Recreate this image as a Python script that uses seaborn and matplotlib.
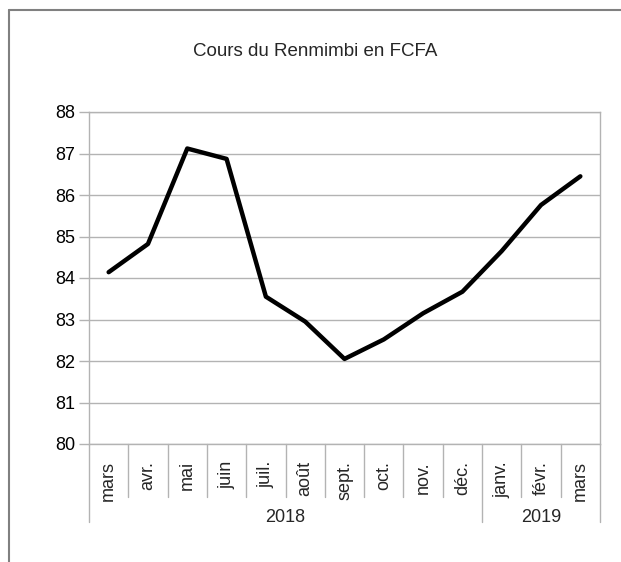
import matplotlib
matplotlib.use("Agg")
import matplotlib.pyplot as plt
from matplotlib.lines import Line2D
import seaborn as sns
import pandas as pd

# Data
months = ["mars", "avr.", "mai", "juin", "juil.", "août", "sept.",
          "oct.", "nov.", "déc.", "janv.", "févr.", "mars"]
years = ["2018", "2019"]
year_counts = [10, 3]
rate = [84.14, 84.82, 87.12, 86.87, 83.55, 82.95, 82.05,
        82.52, 83.15, 83.67, 84.65, 85.76, 86.45]

df = pd.DataFrame({"pos": range(len(months)), "rate": rate})

sns.set_theme(style="white")
plt.rcParams["font.family"] = ["Liberation Sans", "DejaVu Sans"]

fig = plt.figure(figsize=(6.21, 5.62), dpi=100)
ax = fig.add_axes([89 / 621, 1 - 444 / 562, 511 / 621, 332 / 562])

sns.lineplot(data=df, x="pos", y="rate", ax=ax, color="black", linewidth=3.2)

grid_c = "#b3b3b3"
fs = 13
ax.set_xlim(-0.5, len(months) - 0.5)
ax.set_ylim(80, 88)
ax.set_yticks(range(80, 89))
ax.yaxis.grid(True, color=grid_c, linewidth=1)
ax.set_axisbelow(True)
for s in ax.spines.values():
    s.set_color(grid_c)
    s.set_linewidth(1)
ax.tick_params(axis="y", length=7, width=1, color=grid_c, pad=3,
               labelsize=fs, labelcolor="black", left=True)
ax.set_xticks([])
ax.set_xlabel("")
ax.set_ylabel("")

# month labels and separators below the axis
trans = ax.get_xaxis_transform()
for i, m in enumerate(months):
    ax.text(i, -17 / 332, m, rotation=90, ha="center", va="top",
            fontsize=fs, transform=trans)
start = 0
long_edges = [-0.5]
for y, n in zip(years, year_counts):
    ax.text(start + (n - 1) / 2, -73 / 332, y, ha="center", va="center",
            fontsize=fs, transform=trans)
    start += n
    long_edges.append(start - 0.5)
for k in range(len(months) + 1):
    edge = k - 0.5
    depth = 78 / 332 if edge in long_edges else 53 / 332
    ax.plot([edge, edge], [0, -depth], color=grid_c, linewidth=1,
            transform=trans, clip_on=False)

fig.text(315.5 / 621, 1 - 52 / 562, "Cours du Renmimbi en FCFA",
         ha="center", va="center", fontsize=13.5)

# outer chart border
fig.add_artist(Line2D([8.5 / 621, 1], [1 - 9.5 / 562] * 2, color="#808080", linewidth=1.5))
fig.add_artist(Line2D([8.5 / 621] * 2, [0, 1 - 9.5 / 562], color="#808080", linewidth=1.5))

fig.savefig("out.png", dpi=100)
plt.close(fig)
